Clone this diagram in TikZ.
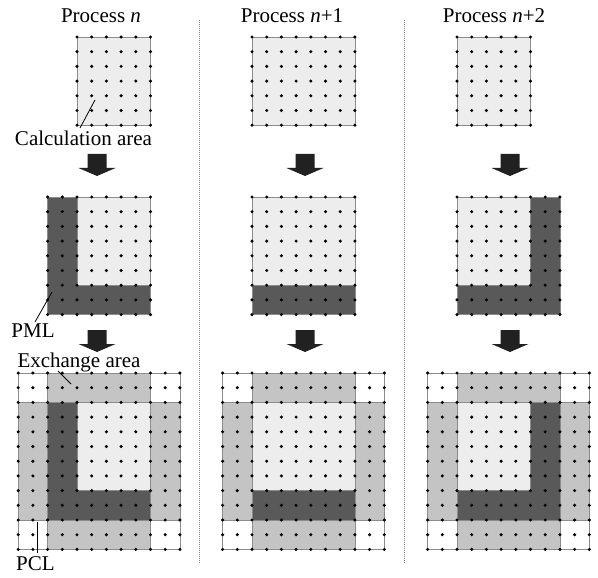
\documentclass[tikz,border=0pt]{standalone}
\usepackage{fontspec}
\setmainfont{Liberation Serif}
\definecolor{calcgray}{gray}{0.93}
\definecolor{pmlgray}{gray}{0.35}
\definecolor{exgray}{gray}{0.77}
\definecolor{edgegray}{gray}{0.55}
\definecolor{arrowgray}{gray}{0.13}
\begin{document}
\begin{tikzpicture}[x=1pt,y=-1pt]
\def\gs{14.7}
\tikzset{
  cellbox/.style={draw=edgegray, line width=0.5pt},
  calcbox/.style={cellbox, fill=calcgray},
  pmlbox/.style={cellbox, fill=pmlgray},
  exbox/.style={cellbox, fill=exgray},
  pclbox/.style={cellbox, fill=white},
  lbl/.style={font=\fontsize{21}{24}\selectfont, inner sep=0pt, anchor=base},
  leader/.style={draw=black, line width=0.8pt},
  sepline/.style={draw=gray, line width=1pt, densely dotted},
  blockarrow/.style={fill=arrowgray}
}
% region{style}{x0}{y0}{i1}{j1}{i2}{j2}: cell block of the grid anchored at (x0,y0)
\newcommand\region[7]{\path[#1] ({#2+#4*\gs},{#3+#5*\gs}) rectangle ({#2+#6*\gs},{#3+#7*\gs});}
% dotgrid{x0}{y0}{nx}{ny}: nodes at every grid intersection
\newcommand\dotgrid[4]{\foreach \i in {0,...,#3}{\foreach \j in {0,...,#4}{\fill ({#1+\i*\gs},{#2+\j*\gs}) circle (1.7);}}}
% blockarr{x}{ytop}: thick downward arrow
\newcommand\blockarr[2]{\fill[blockarrow] ({#1-9.5},#2) -- ({#1+9.5},#2) -- ({#1+9.5},{#2+14}) -- ({#1+18.5},{#2+14}) -- (#1,{#2+22}) -- ({#1-18.5},{#2+14}) -- ({#1-9.5},{#2+14}) -- cycle;}
% exchange frame around an inner 7x8 block, origin at outer corner
\newcommand\exframe[2]{%
  \region{pclbox}{#1}{#2}{0}{0}{11}{12}
  \region{exbox}{#1}{#2}{2}{0}{9}{2}
  \region{exbox}{#1}{#2}{2}{10}{9}{12}
  \region{exbox}{#1}{#2}{0}{2}{2}{10}
  \region{exbox}{#1}{#2}{9}{2}{11}{10}
  \region{pclbox}{#1}{#2}{0}{0}{2}{2}
  \region{pclbox}{#1}{#2}{9}{0}{11}{2}
  \region{pclbox}{#1}{#2}{0}{10}{2}{12}
  \region{pclbox}{#1}{#2}{9}{10}{11}{12}}

\useasboundingbox (0,0) rectangle (598,578);

% separators between processes
\coordinate (s1t) at (199,20); \coordinate (s1b) at (199,564);
\coordinate (s2t) at (404,20); \coordinate (s2b) at (404,564);
\draw[sepline] (s1t) -- (s1b);
\draw[sepline] (s2t) -- (s2b);

% titles
\node[lbl] (t0) at (101,23) {Process \textit{n}};
\node[lbl] (t1) at (292,23) {Process \textit{n}+1};
\node[lbl] (t2) at (494,23) {Process \textit{n}+2};

% ---- process n ----
\region{calcbox}{77}{37}{0}{0}{5}{6}
\dotgrid{77}{37}{5}{6}
\blockarr{97}{154}
\region{pmlbox}{47.6}{197}{0}{0}{7}{8}
\region{calcbox}{47.6}{197}{2}{0}{7}{6}
\dotgrid{47.6}{197}{7}{8}
\blockarr{97}{330}
\exframe{18.2}{373}
\region{pmlbox}{18.2}{373}{2}{2}{9}{10}
\region{calcbox}{18.2}{373}{4}{2}{9}{8}
\dotgrid{18.2}{373}{11}{12}

% ---- process n+1 ----
\region{calcbox}{252}{37}{0}{0}{7}{6}
\dotgrid{252}{37}{7}{6}
\blockarr{305}{154}
\region{pmlbox}{252}{197}{0}{0}{7}{8}
\region{calcbox}{252}{197}{0}{0}{7}{6}
\dotgrid{252}{197}{7}{8}
\blockarr{305}{330}
\exframe{222.6}{373}
\region{pmlbox}{222.6}{373}{2}{2}{9}{10}
\region{calcbox}{222.6}{373}{2}{2}{9}{8}
\dotgrid{222.6}{373}{11}{12}

% ---- process n+2 ----
\region{calcbox}{457}{37}{0}{0}{5}{6}
\dotgrid{457}{37}{5}{6}
\blockarr{510}{154}
\region{pmlbox}{457}{197}{0}{0}{7}{8}
\region{calcbox}{457}{197}{0}{0}{5}{6}
\dotgrid{457}{197}{7}{8}
\blockarr{510}{330}
\exframe{427.6}{373}
\region{pmlbox}{427.6}{373}{2}{2}{9}{10}
\region{calcbox}{427.6}{373}{2}{2}{7}{8}
\dotgrid{427.6}{373}{11}{12}

% labels with leaders
\node[lbl] (calc) at (83.5,146) {Calculation area};
\coordinate (calcpt) at (95,100); \coordinate (calcend) at (80,128);
\draw[leader] (calcpt) -- (calcend);

\node[lbl] (pml) at (33,337) {PML};
\coordinate (pmlpt) at (52,292); \coordinate (pmlend) at (35,322);
\draw[leader] (pmlpt) -- (pmlend);

\node[lbl] (exch) at (79,367) {Exchange area};
\coordinate (expt) at (71,384); \coordinate (exend) at (58,371);
\draw[leader] (expt) -- (exend);

\node[lbl] (pcl) at (35.5,570) {PCL};
\coordinate (pclpt) at (37,522); \coordinate (pclend) at (37,553);
\draw[leader] (pclpt) -- (pclend);
\end{tikzpicture}
\end{document}
